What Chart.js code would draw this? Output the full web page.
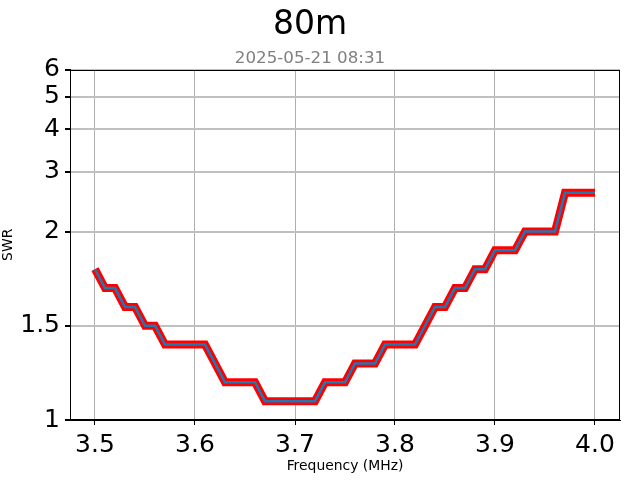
<!DOCTYPE html>
<html>
<head>
<meta charset="utf-8">
<script src="https://cdn.jsdelivr.net/npm/chart.js@4/dist/chart.umd.min.js"></script>
<style>
  html, body { margin: 0; padding: 0; background: #fff; }
  #wrap { width: 640px; height: 480px; }
</style>
</head>
<body>
<div id="wrap"><canvas id="swrChart" width="640" height="480"></canvas></div>
<script>
// DATA
var freqs = [3.50, 3.51, 3.52, 3.53, 3.54, 3.55, 3.56, 3.57, 3.58, 3.59,
             3.60, 3.61, 3.62, 3.63, 3.64, 3.65, 3.66, 3.67, 3.68, 3.69,
             3.70, 3.71, 3.72, 3.73, 3.74, 3.75, 3.76, 3.77, 3.78, 3.79,
             3.80, 3.81, 3.82, 3.83, 3.84, 3.85, 3.86, 3.87, 3.88, 3.89,
             3.90, 3.91, 3.92, 3.93, 3.94, 3.95, 3.96, 3.97, 3.98, 3.99, 4.00];
var swr = [1.8, 1.7, 1.7, 1.6, 1.6, 1.5, 1.5, 1.4, 1.4, 1.4,
           1.4, 1.4, 1.3, 1.2, 1.2, 1.2, 1.2, 1.1, 1.1, 1.1,
           1.1, 1.1, 1.1, 1.2, 1.2, 1.2, 1.3, 1.3, 1.3, 1.4,
           1.4, 1.4, 1.4, 1.5, 1.6, 1.6, 1.7, 1.7, 1.8, 1.8,
           1.9, 1.9, 1.9, 2.0, 2.0, 2.0, 2.0, 2.6, 2.6, 2.6, 2.6];
var freqTicks = [3.5, 3.6, 3.7, 3.8, 3.9, 4.0];
var swrTicks = [1, 1.5, 2, 3, 4, 5, 6];

var FONT = "'DejaVu Sans', sans-serif";

// symlog transform, linear below 2, log10 above (linscale 1)
var LINTHRESH = 2;
var LINADJ = 1 / (1 - 1 / 10);
function symlog(v) {
    if (v <= LINTHRESH) return v * LINADJ;
    return LINTHRESH * (LINADJ + Math.log10(v / LINTHRESH));
}
function symlogInv(t) {
    if (t <= LINTHRESH * LINADJ) return t / LINADJ;
    return LINTHRESH * Math.pow(10, t / LINTHRESH - LINADJ);
}

class SymlogScale extends Chart.Scale {
    determineDataLimits() {
        var mm = this.getMinMax(true);
        this.min = this.options.min != null ? this.options.min : mm.min;
        this.max = this.options.max != null ? this.options.max : mm.max;
    }
    buildTicks() {
        return swrTicks.map(function (v) { return { value: v }; });
    }
    getLabelForValue(v) {
        return String(v);
    }
    configure() {
        super.configure();
        this._tMin = symlog(this.min);
        this._tMax = symlog(this.max);
    }
    getPixelForValue(v) {
        return this.getPixelForDecimal((symlog(v) - this._tMin) / (this._tMax - this._tMin));
    }
    getValueForPixel(p) {
        return symlogInv(this._tMin + this.getDecimalForPixel(p) * (this._tMax - this._tMin));
    }
}
SymlogScale.id = 'symlog';
SymlogScale.defaults = {};
Chart.register(SymlogScale);

// top and right spines
var frame = {
    id: 'frame',
    afterDraw: function (chart) {
        var a = chart.chartArea, c = chart.ctx;
        c.save();
        c.strokeStyle = '#000';
        c.lineWidth = 1;
        c.strokeRect(Math.round(a.left) + 0.5, Math.round(a.top) + 0.5,
                     Math.round(a.right - a.left) - 1, Math.round(a.bottom - a.top) - 1);
        c.restore();
    }
};

var points = freqs.map(function (f, i) { return { x: f, y: swr[i] }; });

var ctx = document.getElementById('swrChart').getContext('2d');
var chart = new Chart(ctx, {
    type: 'line',
    data: {
        datasets: [{
            label: 'SWR',
            data: points,
            borderColor: '#1f77b4',
            borderWidth: 2.5,
            pointRadius: 0,
            tension: 0,
            order: 0
        }, {
            label: 'SWR outline',
            data: points,
            borderColor: '#ff0000',
            borderWidth: 8,
            pointRadius: 0,
            tension: 0,
            order: 1
        }]
    },
    options: {
        responsive: false,
        animation: false,
        layout: { padding: { left: 0, right: 20, top: 0, bottom: 0 } },
        plugins: {
            legend: { display: false },
            tooltip: { enabled: false },
            title: {
                display: true,
                text: '80m',
                color: '#000',
                font: { family: FONT, size: 33, weight: 'normal' },
                padding: { top: 6, bottom: 0 }
            },
            subtitle: {
                display: true,
                text: '2025-05-21 08:31',
                color: '#808080',
                font: { family: FONT, size: 16.7, weight: 'normal' },
                padding: { top: 3, bottom: 1 }
            }
        },
        scales: {
            x: {
                type: 'linear',
                min: 3.475,
                max: 4.025,
                afterBuildTicks: function (scale) {
                    scale.ticks = freqTicks.map(function (v) { return { value: v }; });
                },
                afterFit: function (scale) { scale.height = 60; },
                ticks: {
                    autoSkip: false,
                    maxRotation: 0,
                    color: '#000',
                    padding: 5,
                    font: { family: FONT, size: 25 },
                    callback: function (v) { return Number(v).toFixed(1); }
                },
                grid: { color: '#b0b0b0', lineWidth: 1, tickColor: '#000', tickLength: 5 },
                border: { color: '#000', width: 1 },
                title: {
                    display: true,
                    text: 'Frequency (MHz)',
                    color: '#000',
                    font: { family: FONT, size: 13.9 },
                    padding: { top: 0, bottom: 5 }
                }
            },
            y: {
                type: 'symlog',
                min: 1,
                max: 6,
                afterFit: function (scale) { scale.width = 70; },
                ticks: {
                    color: '#000',
                    padding: 5,
                    font: { family: FONT, size: 25 },
                    callback: function (v) { return String(v); }
                },
                grid: { color: '#c0c0c0', lineWidth: 2, tickColor: '#000', tickLength: 5 },
                border: { color: '#000', width: 1 },
                title: {
                    display: true,
                    text: 'SWR',
                    color: '#000',
                    font: { family: FONT, size: 13.9 },
                    padding: { top: 0, bottom: 0 }
                }
            }
        }
    },
    plugins: [frame]
});
</script>
</body>
</html>
